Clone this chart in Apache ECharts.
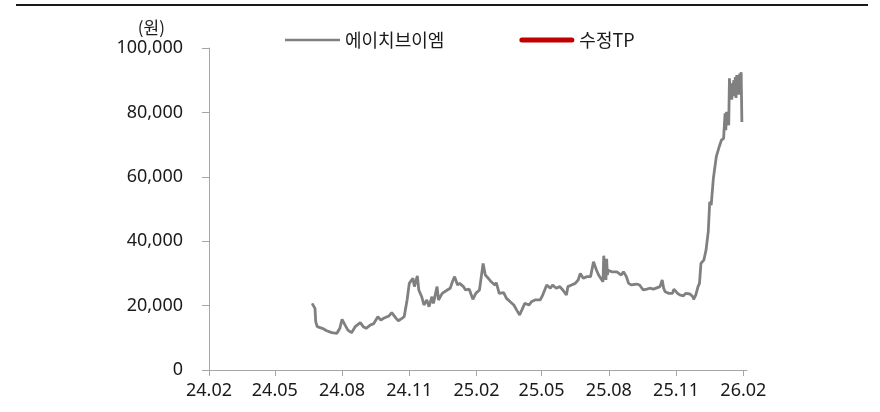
<!DOCTYPE html>
<html>
<head>
<meta charset="utf-8">
<script src="https://cdn.jsdelivr.net/npm/echarts@6/dist/echarts.min.js"></script>
<style>
html,body{margin:0;padding:0;background:#fff;}
#chart{width:880px;height:412px;}
</style>
</head>
<body>
<div id="chart"></div>
<script>
const seriesNames = ['에이치브이엠', '수정TP'];
const yUnit = '(원)';
const xTickLabels = ['24.02','24.05','24.08','24.11','25.02','25.05','25.08','25.11','26.02'];
const xAxisEnd = '2026-02-06';
const yTicks = [0, 20000, 40000, 60000, 80000, 100000];

const priceDates = [
'2024-06-21','2024-06-25','2024-06-26','2024-06-28','2024-07-05','2024-07-11','2024-07-18','2024-07-25','2024-07-29','2024-08-01',
'2024-08-05','2024-08-09','2024-08-14','2024-08-19','2024-08-26','2024-08-30','2024-09-03','2024-09-09','2024-09-13','2024-09-19',
'2024-09-23','2024-09-27','2024-10-04','2024-10-08','2024-10-14','2024-10-17','2024-10-22','2024-10-25','2024-10-29','2024-11-01',
'2024-11-06','2024-11-08','2024-11-12','2024-11-14','2024-11-18','2024-11-21','2024-11-25','2024-11-28','2024-12-02','2024-12-04',
'2024-12-09','2024-12-11','2024-12-16','2024-12-18','2024-12-23','2024-12-27','2024-12-30','2025-01-02','2025-01-06','2025-01-09',
'2025-01-14','2025-01-17','2025-01-22','2025-01-27','2025-01-31','2025-02-05','2025-02-10','2025-02-13','2025-02-17','2025-02-21',
'2025-02-26','2025-02-28','2025-03-04','2025-03-10','2025-03-14','2025-03-19','2025-03-24','2025-03-28','2025-04-01','2025-04-03',
'2025-04-08','2025-04-14','2025-04-17','2025-04-22','2025-04-29','2025-05-02','2025-05-08','2025-05-13','2025-05-16','2025-05-21',
'2025-05-26','2025-05-30','2025-06-04','2025-06-06','2025-06-11','2025-06-16','2025-06-20','2025-06-23','2025-06-27','2025-07-02',
'2025-07-07','2025-07-11','2025-07-15','2025-07-18','2025-07-24','2025-07-25','2025-07-28','2025-07-29','2025-07-30','2025-07-31',
'2025-08-01','2025-08-05','2025-08-12','2025-08-18','2025-08-21','2025-08-25','2025-08-28','2025-09-01','2025-09-08','2025-09-12',
'2025-09-17','2025-09-22','2025-09-26','2025-10-01','2025-10-10','2025-10-13','2025-10-15','2025-10-17','2025-10-22','2025-10-27',
'2025-10-29','2025-11-03','2025-11-06','2025-11-11','2025-11-14','2025-11-20','2025-11-24','2025-11-25','2025-11-27','2025-11-28',
'2025-12-01','2025-12-03','2025-12-05','2025-12-09','2025-12-12','2025-12-15','2025-12-16','2025-12-17','2025-12-19','2025-12-22',
'2025-12-24','2025-12-26','2025-12-30','2026-01-02','2026-01-05','2026-01-07','2026-01-08','2026-01-09','2026-01-12','2026-01-13',
'2026-01-14','2026-01-15','2026-01-16','2026-01-19','2026-01-20','2026-01-21','2026-01-22','2026-01-23','2026-01-26','2026-01-27',
'2026-01-28','2026-01-29','2026-01-30'
];
const priceValues = [
20700,19150,15000,13450,12950,12200,11600,11400,12950,15750,
14000,12400,11600,13450,14700,13450,12950,14000,14300,16550,
15500,16050,16750,17800,16050,15300,16050,16550,21750,26900,
28500,25900,29200,24850,22750,20200,21750,19650,22750,20700,
25900,21750,23800,23300,24850,25400,27400,29000,26400,26900,
25900,24850,25100,21950,23800,24850,33100,29500,28500,27400,
26400,27100,23800,24000,22250,21200,20200,18600,17100,18150,
20700,20200,21200,21750,21750,23000,26400,25400,26400,25400,
25900,24850,23300,25900,26400,26900,27950,30000,28500,29000,
29000,33650,31050,29500,27400,35500,28000,34500,29500,31000,
31050,30500,30500,29500,30500,29000,26900,26400,26700,26400,
24850,25100,25400,25100,25900,27950,25400,24300,23800,23800,
25100,23800,23300,23000,23800,23600,22750,21950,22000,23300,
25900,26900,33100,34150,37300,42950,43500,52250,51200,59500,
60000,66250,69350,71400,71950,79700,74500,80200,76000,90600,
84500,89000,84000,90000,85000,91000,84500,91600,85500,92100,
86000,92500,77000
];
const targetDates = [];
const targetValues = [];

function dateTime(s) {
  const p = s.split('-');
  return new Date(parseInt(p[0], 10), parseInt(p[1], 10) - 1, parseInt(p[2], 10)).getTime();
}
function tickTime(lbl) {
  const p = lbl.split('.');
  return new Date(2000 + parseInt(p[0], 10), parseInt(p[1], 10) - 1, 1).getTime();
}
const xTickTimes = xTickLabels.map(tickTime);
const priceData = priceDates.map((d, i) => [dateTime(d), priceValues[i]]);
const targetData = targetDates.map((d, i) => [dateTime(d), targetValues[i]]);

const FONT = '"Noto Sans", "Noto Sans CJK KR", sans-serif';
const axisGrey = '#A6A6A6';

const chart = echarts.init(document.getElementById('chart'), null, {renderer: 'canvas'});
chart.setOption({
  animation: false,
  backgroundColor: '#ffffff',
  textStyle: {fontFamily: FONT},
  grid: {left: 209, right: 133, top: 48, bottom: 42, containLabel: false},
  legend: {
    left: 280, top: 26,
    itemWidth: 55, itemHeight: 10, itemGap: 75,
    textStyle: {fontSize: 18, color: '#1a1a1a', fontFamily: '"Noto Sans CJK KR", "Noto Sans", sans-serif'},
    data: [
      {name: seriesNames[0], icon: 'path://M0,0H110V5H0Z', itemStyle: {color: '#808080'}},
      {name: seriesNames[1], icon: 'path://M2.5,0H52.5A2.5,2.5 0 0 1 52.5,5H2.5A2.5,2.5 0 0 1 2.5,0Z', itemStyle: {color: '#C00000'}}
    ]
  },
  xAxis: {
    type: 'value',
    min: xTickTimes[0],
    max: dateTime(xAxisEnd),
    splitLine: {show: false},
    axisLine: {show: true, lineStyle: {color: axisGrey, width: 1}},
    axisTick: {show: true, length: 6, lineStyle: {color: axisGrey}, customValues: xTickTimes},
    axisLabel: {
      customValues: xTickTimes,
      margin: 12,
      fontSize: 18,
      color: '#1a1a1a',
      fontFamily: FONT,
      formatter: function (v) {
        const i = xTickTimes.indexOf(v);
        if (i >= 0) return xTickLabels[i];
        const d = new Date(v);
        return String(d.getFullYear() % 100).padStart(2, '0') + '.' + String(d.getMonth() + 1).padStart(2, '0');
      }
    }
  },
  yAxis: {
    type: 'value',
    min: yTicks[0], max: yTicks[yTicks.length - 1], interval: yTicks[1] - yTicks[0],
    name: yUnit,
    nameLocation: 'end',
    nameGap: 12,
    nameTextStyle: {fontSize: 17, color: '#1a1a1a', align: 'right', padding: [0, 44, 0, 0], fontFamily: '"Noto Sans CJK KR", sans-serif'},
    splitLine: {show: false},
    axisLine: {show: true, lineStyle: {color: axisGrey, width: 1}},
    axisTick: {show: true, inside: false, length: 7, lineStyle: {color: axisGrey}},
    axisLabel: {
      margin: 26, fontSize: 18, color: '#1a1a1a', fontFamily: FONT,
      formatter: function (v) { return v.toLocaleString('en-US'); }
    }
  },
  graphic: [{
    type: 'line', shape: {x1: 16, y1: 5, x2: 868, y2: 5},
    style: {stroke: '#1a1a1a', lineWidth: 2}
  }],
  series: [
    {
      name: seriesNames[0], type: 'line', data: priceData, showSymbol: false, symbol: 'none',
      lineStyle: {color: '#808080', width: 2.8}, itemStyle: {color: '#808080'}
    },
    {
      name: seriesNames[1], type: 'line', data: targetData, showSymbol: false, symbol: 'none',
      lineStyle: {color: '#C00000', width: 5, cap: 'round'}, itemStyle: {color: '#C00000'}
    }
  ]
});
</script>
</body>
</html>
